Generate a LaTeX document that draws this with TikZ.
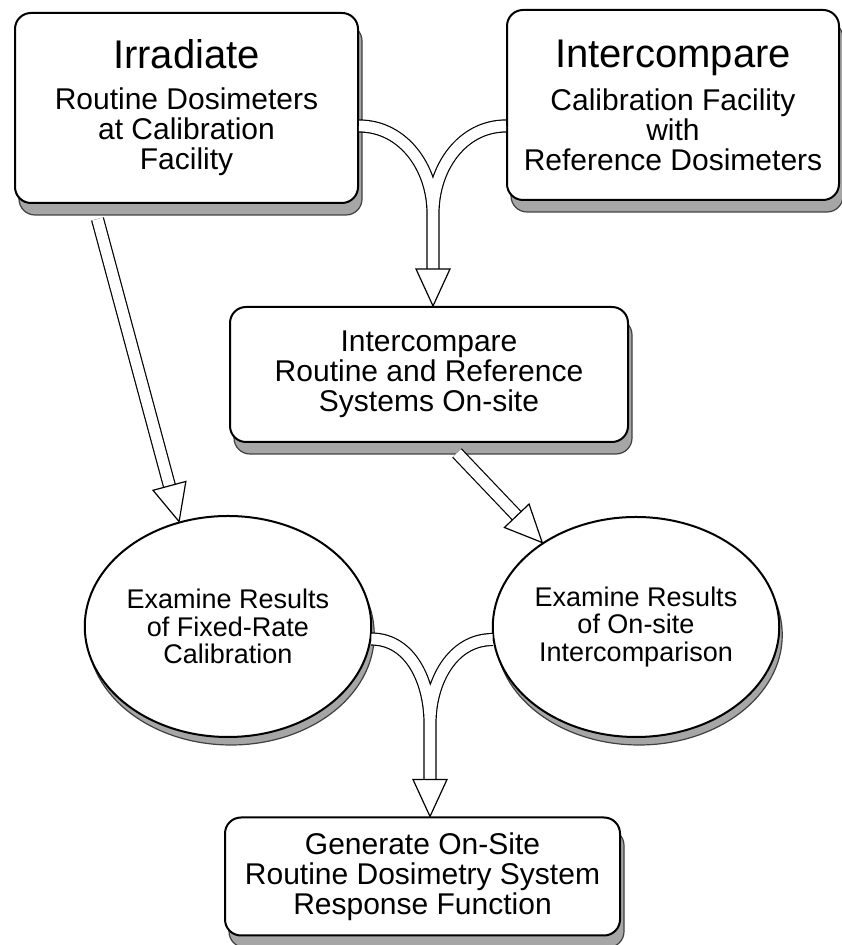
\documentclass[tikz,border=0pt]{standalone}
\usepackage{fontspec}
\setmainfont{Liberation Sans}
\usetikzlibrary{positioning,calc,shapes.geometric,shadows,decorations.markings}
\newcommand{\stagetitle}[1]{{\fontsize{20}{20}\selectfont #1}}

\begin{document}
\begin{tikzpicture}[
    x=0.5pt, y=0.5pt,
    stage/.style={draw, line width=1pt, rounded corners=8pt, fill=white, inner sep=0pt, align=center, font=\fontsize{15}{15}\selectfont,
        drop shadow={shadow xshift=2pt, shadow yshift=-6pt, fill=black!35, draw=black!75, line width=0.6pt, opacity=1}},
    result/.style={draw, ellipse, line width=1pt, fill=white, inner sep=0pt, align=center, minimum width=135pt, minimum height=110.5pt, font=\fontsize{13.5}{13.75}\selectfont,
        drop shadow={shadow xshift=1.5pt, shadow yshift=-4pt, fill=black!35, draw=black!75, line width=0.6pt, opacity=1}},
    fat/.style={line width=6.6pt, shorten >=10pt, postaction={draw=white, line width=5.4pt}, postaction={decorate},
        decoration={markings, mark=at position 1 with {\draw[line width=0.6pt, shorten >=0pt, fill=white] (0pt,0pt) -- (-18.5pt,8.5pt) -- (-18.5pt,-8.5pt) -- cycle;}}}
]
\useasboundingbox (0,0) rectangle (841,945);

\node[stage, minimum width=171.5pt, minimum height=95pt] (irr) at (186.5,837) {\stagetitle{Irradiate}\\[5.5pt]Routine Dosimeters\\at Calibration\\Facility};
\node[stage, minimum width=166pt, minimum height=95pt] (icf) at (673,840) {\stagetitle{Intercompare}\\[5.5pt]Calibration Facility\\with\\Reference Dosimeters};
\node[stage, minimum width=199pt, minimum height=67.5pt] (cmp) at (429,570.5) {Intercompare\\Routine and Reference\\Systems On-site};
\node[result] (fix) at (228,318.5) {Examine Results\\of Fixed-Rate\\Calibration};
\node[result, minimum width=134pt, minimum height=110pt] (ons) at (636,318) {Examine Results\\of On-site\\Intercomparison};
\node[stage, minimum width=197.5pt, minimum height=59pt] (gen) at (422.5,68.5) {Generate On-Site\\Routine Dosimetry System\\Response Function};

\coordinate (j1) at (433,732);
\coordinate (j2) at (430,222);

\draw[fat] ([yshift=-10.5pt]icf.west) to[out=180,in=90] (j1) ([yshift=-9pt]irr.east) to[out=0,in=90] (j1) -- (j1 |- cmp.north);
\draw[fat] ($(irr.south west)+(83.5,-15)$) -- (fix.115);
\draw[fat] ($(cmp.south)+(28,-10)$) -- (ons.138);
\draw[fat] (ons.185) to[out=180,in=90] (j2) (fix.-5) to[out=0,in=90] (j2) -- (j2 |- gen.north);
\end{tikzpicture}
\end{document}
